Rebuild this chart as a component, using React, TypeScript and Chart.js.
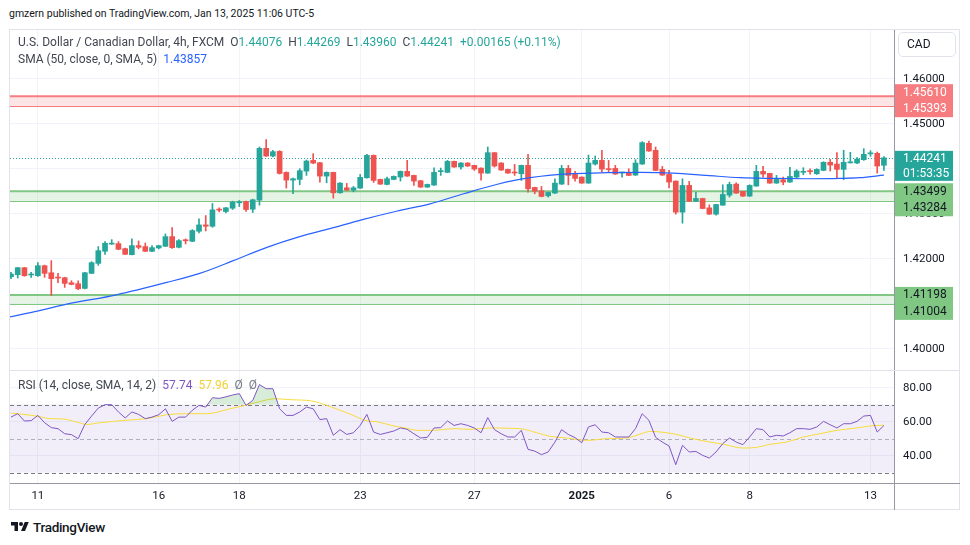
import React, { useEffect, useRef } from 'react';
import { Chart, registerables } from 'chart.js';

Chart.register(...registerables);

// ---- Candles (4h, USDCAD), index 1..131 ----
const opens = [
  1.41600, 1.41646, 1.41802, 1.41640, 1.41624, 1.41846, 1.41690, 1.41587, 1.41579, 1.41468,
  1.41446, 1.41342, 1.41676, 1.41898, 1.42166, 1.42325, 1.42336, 1.42225, 1.42091, 1.42292,
  1.42270, 1.42166, 1.42240, 1.42277, 1.42492, 1.42255, 1.42410, 1.42388, 1.42611, 1.42752,
  1.42722, 1.43090, 1.43049, 1.43123, 1.43242, 1.43272, 1.43101, 1.43302, 1.44452, 1.44281,
  1.44385, 1.43918, 1.43747, 1.43762, 1.43947, 1.44185, 1.44133, 1.43836, 1.43918, 1.43465,
  1.43576, 1.43524, 1.43569, 1.43799, 1.44296, 1.43762, 1.43651, 1.43762, 1.43814, 1.43940,
  1.43851, 1.43733, 1.43591, 1.43636, 1.43935, 1.43918, 1.44163, 1.44037, 1.44126, 1.44074,
  1.44014, 1.43903, 1.44356, 1.44126, 1.43985, 1.43915, 1.43888, 1.44074, 1.43584, 1.43510,
  1.43398, 1.43458, 1.43658, 1.44007, 1.43873, 1.43814, 1.43680, 1.44103, 1.44185, 1.43990,
  1.44007, 1.43905, 1.43918, 1.43858, 1.44103, 1.44564, 1.44408, 1.43985, 1.43873, 1.43725,
  1.43035, 1.43629, 1.43280, 1.43339, 1.43131, 1.42990, 1.43190, 1.43413, 1.43658, 1.43495,
  1.43391, 1.43614, 1.43940, 1.43896, 1.43680, 1.43755, 1.43703, 1.43814, 1.43920, 1.43945,
  1.43888, 1.43962, 1.44141, 1.44103, 1.43985, 1.44130, 1.44126, 1.44200, 1.44330, 1.44341,
  1.44076,
];
const highs = [
  1.41700, 1.41810, 1.41810, 1.41700, 1.41913, 1.41860, 1.41958, 1.41676, 1.41590, 1.41512,
  1.41512, 1.41700, 1.41935, 1.42270, 1.42381, 1.42425, 1.42381, 1.42240, 1.42440, 1.42396,
  1.42351, 1.42292, 1.42300, 1.42552, 1.42693, 1.42425, 1.42440, 1.42648, 1.42886, 1.42960,
  1.43227, 1.43131, 1.43140, 1.43279, 1.43294, 1.43280, 1.43324, 1.44482, 1.44645, 1.44408,
  1.44400, 1.43930, 1.43790, 1.43999, 1.44192, 1.44333, 1.44140, 1.43930, 1.43925, 1.43690,
  1.43673, 1.43606, 1.43873, 1.44319, 1.44305, 1.43770, 1.43814, 1.43840, 1.43950, 1.44185,
  1.43860, 1.43740, 1.43660, 1.44022, 1.44014, 1.44185, 1.44170, 1.44135, 1.44135, 1.44080,
  1.44020, 1.44482, 1.44360, 1.44135, 1.43990, 1.44096, 1.44080, 1.44319, 1.43590, 1.43606,
  1.43480, 1.43777, 1.44074, 1.44074, 1.43940, 1.43820, 1.44304, 1.44282, 1.44408, 1.44185,
  1.44074, 1.43918, 1.43999, 1.44200, 1.44601, 1.44616, 1.44482, 1.44051, 1.43962, 1.43730,
  1.43777, 1.43718, 1.43473, 1.43345, 1.43198, 1.43210, 1.43643, 1.43703, 1.43688, 1.43500,
  1.43643, 1.44074, 1.44051, 1.43900, 1.43851, 1.43814, 1.44029, 1.43977, 1.44022, 1.43999,
  1.43999, 1.44155, 1.44207, 1.44356, 1.44408, 1.44363, 1.44245, 1.44445, 1.44400, 1.44371,
  1.44269,
];
const lows = [
  1.41560, 1.41572, 1.41610, 1.41587, 1.41610, 1.41587, 1.41186, 1.41468, 1.41364, 1.41420,
  1.41312, 1.41330, 1.41670, 1.41854, 1.42099, 1.42320, 1.42200, 1.42090, 1.42085, 1.42218,
  1.42160, 1.42160, 1.42218, 1.42270, 1.42232, 1.42240, 1.42329, 1.42380, 1.42574, 1.42618,
  1.42700, 1.43042, 1.43019, 1.43094, 1.43160, 1.43049, 1.43027, 1.43190, 1.44270, 1.44259,
  1.43880, 1.43569, 1.43443, 1.43643, 1.43851, 1.44110, 1.43702, 1.43687, 1.43346, 1.43458,
  1.43515, 1.43487, 1.43560, 1.43790, 1.43695, 1.43650, 1.43640, 1.43755, 1.43725, 1.43830,
  1.43629, 1.43585, 1.43585, 1.43630, 1.43851, 1.43910, 1.44030, 1.43992, 1.44050, 1.43962,
  1.43747, 1.43895, 1.44037, 1.43962, 1.43895, 1.43851, 1.43740, 1.43480, 1.43443, 1.43375,
  1.43369, 1.43450, 1.43650, 1.43643, 1.43725, 1.43675, 1.43675, 1.44081, 1.43925, 1.43925,
  1.43875, 1.43814, 1.43845, 1.43850, 1.44095, 1.44385, 1.43955, 1.43850, 1.43576, 1.42990,
  1.42790, 1.43270, 1.43270, 1.43110, 1.42985, 1.42968, 1.43185, 1.43369, 1.43450, 1.43385,
  1.43385, 1.43610, 1.43814, 1.43675, 1.43675, 1.43643, 1.43695, 1.43799, 1.43866, 1.43881,
  1.43873, 1.43955, 1.43948, 1.43777, 1.43755, 1.44126, 1.44111, 1.44185, 1.44274, 1.43903,
  1.43960,
];
const closes = [
  1.41660, 1.41802, 1.41624, 1.41650, 1.41846, 1.41676, 1.41557, 1.41572, 1.41453, 1.41431,
  1.41334, 1.41690, 1.41913, 1.42180, 1.42344, 1.42333, 1.42210, 1.42099, 1.42292, 1.42255,
  1.42166, 1.42247, 1.42292, 1.42492, 1.42247, 1.42403, 1.42400, 1.42626, 1.42752, 1.42722,
  1.43086, 1.43080, 1.43131, 1.43257, 1.43264, 1.43094, 1.43309, 1.44452, 1.44281, 1.44378,
  1.43895, 1.43747, 1.43777, 1.43955, 1.44170, 1.44125, 1.43836, 1.43918, 1.43465, 1.43680,
  1.43524, 1.43576, 1.43807, 1.44296, 1.43740, 1.43658, 1.43777, 1.43829, 1.43940, 1.43836,
  1.43725, 1.43591, 1.43651, 1.43918, 1.43945, 1.44163, 1.44037, 1.44126, 1.44059, 1.43992,
  1.43903, 1.44356, 1.44059, 1.43970, 1.43903, 1.43905, 1.44074, 1.43554, 1.43502, 1.43383,
  1.43473, 1.43680, 1.44007, 1.43851, 1.43784, 1.43680, 1.44126, 1.44185, 1.43992, 1.43980,
  1.43881, 1.43912, 1.43851, 1.44126, 1.44579, 1.44393, 1.43962, 1.43858, 1.43703, 1.43035,
  1.43629, 1.43280, 1.43339, 1.43116, 1.42990, 1.43205, 1.43428, 1.43651, 1.43458, 1.43391,
  1.43629, 1.43940, 1.43881, 1.43680, 1.43762, 1.43703, 1.43829, 1.43948, 1.43930, 1.43935,
  1.43985, 1.44141, 1.44081, 1.43985, 1.44141, 1.44136, 1.44215, 1.44319, 1.44336, 1.44059,
  1.44241,
];

// ---- SMA(50) (candle index, value) ----
const smaIdx = [0.85, 5.07, 9.3, 16.7, 24.2, 29.1, 34.1, 39.1, 44.0, 48.5, 53.2, 58.4, 63.4, 68.4, 73.3, 78.3, 84.7, 89.7, 94.7, 99.6, 104.6, 109.6, 114.5, 119.5, 124.5, 127.4, 131];
const smaValues = [1.40710, 1.40844, 1.40993, 1.41200, 1.41474, 1.41675, 1.41958, 1.42254, 1.42492, 1.42670, 1.42864, 1.43056, 1.43220, 1.43443, 1.43650, 1.43800, 1.43889, 1.43911, 1.43918, 1.43902, 1.43851, 1.43800, 1.43784, 1.43777, 1.43784, 1.43800, 1.43857];

// ---- RSI(14) per candle ----
const rsiValues = [
  62.7, 64.7, 60.4, 60.6, 63.7, 59.4, 56.5, 55.9, 52.9, 52.4,
  50.0, 58.4, 63.3, 68.0, 70.0, 70.0, 65.7, 62.2, 65.7, 64.3,
  61.8, 62.7, 64.1, 67.6, 60.2, 62.7, 62.7, 66.7, 69.6, 68.6,
  74.1, 73.7, 74.6, 75.7, 76.5, 69.6, 72.5, 81.8, 79.4, 79.4,
  67.6, 63.7, 63.7, 65.7, 68.6, 67.6, 61.2, 61.8, 52.0, 55.3,
  52.5, 53.5, 57.8, 64.3, 53.9, 52.5, 53.5, 54.5, 56.3, 55.5,
  52.9, 50.4, 50.8, 56.3, 56.5, 60.4, 57.8, 58.8, 57.8, 56.3,
  53.5, 62.4, 55.3, 52.9, 51.0, 51.0, 54.9, 43.7, 42.7, 40.6,
  42.2, 48.0, 55.3, 52.5, 50.6, 47.6, 56.9, 58.2, 53.9, 53.5,
  51.0, 51.0, 51.0, 55.9, 64.7, 60.8, 50.8, 48.0, 45.7, 34.7,
  46.1, 42.2, 42.5, 40.2, 38.6, 42.2, 47.1, 50.4, 48.0, 46.5,
  51.0, 55.9, 55.3, 51.0, 52.0, 51.6, 53.5, 55.9, 55.9, 55.5,
  56.9, 60.2, 58.2, 56.3, 58.8, 58.8, 60.2, 63.3, 63.7, 53.9,
  57.74,
];

// ---- RSI-based MA (candle index, value) ----
const rsiMaIdx = [1, 4.83, 6.81, 8.79, 10.78, 12.27, 14.25, 19.21, 21.21, 24.19, 27.17, 30.14, 33.61, 35.85, 37.83, 40.31, 42.8, 45.78, 47.76, 49.74, 51.74, 53.72, 55.7, 57.69, 59.67, 61.66, 63.65, 67.12, 69.35, 72.33, 76.8, 79.29, 81.27, 83.75, 86.73, 89.71, 92.69, 95.16, 96.16, 98.65, 100.63, 102.12, 105.1, 107.08, 110.06, 112.05, 114.03, 116.52, 118.99, 121.48, 123.96, 126.94, 128.92, 131];
const rsiMaValues = [65.1, 63.3, 61.8, 61.6, 59.8, 58.4, 59.4, 61.2, 61.8, 64.1, 64.7, 64.7, 67.6, 69.6, 71.6, 73.5, 72.9, 72.2, 70.0, 67.1, 64.1, 60.8, 59.8, 57.8, 56.3, 54.9, 54.9, 55.9, 55.5, 56.3, 55.9, 53.5, 51.4, 50.4, 49.0, 50.0, 50.4, 53.3, 54.3, 53.5, 52.0, 50.4, 48.0, 46.7, 44.5, 44.9, 46.7, 48.0, 51.0, 52.9, 54.9, 56.3, 57.5, 57.96];

// ---- Axes / annotations ----
const timeTickIdx = [5, 23, 35, 53, 70, 86, 99, 111, 129];
const timeTickLabels = ['11', '16', '18', '23', '27', '2025', '6', '8', '13'];
const priceTicks = [1.40, 1.41, 1.42, 1.43, 1.44, 1.45, 1.46];
const rsiTicks = [40, 60, 80];
const rsiLevels = [70, 50, 30];
const zoneHighs = [1.45610, 1.43499, 1.41198];
const zoneLows = [1.45393, 1.43284, 1.41004];
const zoneKinds = ['red', 'green', 'green'];
const lastPrice = 1.44241;
const countdownText = '01:53:35';

const IDX_MIN = 0.85;
const IDX_MAX = 132.5;
const PRICE_MIN = 1.3953;
const PRICE_MAX = 1.4708;
const RSI_MIN = 23.94;
const RSI_MAX = 90.4;

const UP = '#26A69A';
const DOWN = '#EF5350';
const GRID = '#F0F3FA';
const TEXT = '#131722';
const FONT = "Roboto, 'Noto Sans', sans-serif";

export default function App() {
  const priceRef = useRef<HTMLCanvasElement | null>(null);
  const rsiRef = useRef<HTMLCanvasElement | null>(null);

  useEffect(() => {
    const colors = opens.map((o, i) => (closes[i] >= o ? UP : DOWN));

    const zonePlugin = {
      id: 'zones',
      beforeDatasetsDraw(chart: any) {
        const { ctx, chartArea, scales } = chart;
        const y = scales.y;
        ctx.save();
        zoneHighs.forEach((hi, i) => {
          const yt = y.getPixelForValue(hi);
          const yb = y.getPixelForValue(zoneLows[i]);
          const red = zoneKinds[i] === 'red';
          ctx.fillStyle = red ? 'rgba(247,124,128,0.2)' : 'rgba(129,199,132,0.2)';
          ctx.fillRect(chartArea.left, yt, chartArea.right - chartArea.left, yb - yt);
          ctx.strokeStyle = red ? '#F77C80' : '#81C784';
          ctx.lineWidth = 2;
          ctx.beginPath();
          ctx.moveTo(chartArea.left, yt);
          ctx.lineTo(chartArea.right, yt);
          ctx.stroke();
          ctx.lineWidth = 1;
          ctx.beginPath();
          ctx.moveTo(chartArea.left, Math.round(yb) + 0.5);
          ctx.lineTo(chartArea.right, Math.round(yb) + 0.5);
          ctx.stroke();
        });
        const yp = Math.round(y.getPixelForValue(lastPrice)) + 0.5;
        ctx.strokeStyle = UP;
        ctx.lineWidth = 1;
        ctx.setLineDash([1, 2]);
        ctx.beginPath();
        ctx.moveTo(chartArea.left, yp);
        ctx.lineTo(chartArea.right, yp);
        ctx.stroke();
        ctx.restore();
      },
      afterDraw(chart: any) {
        const { ctx, chartArea, scales } = chart;
        const y = scales.y;
        ctx.save();
        ctx.strokeStyle = '#9598A1';
        ctx.lineWidth = 1;
        ctx.beginPath();
        ctx.moveTo(chartArea.right + 0.5, chartArea.top);
        ctx.lineTo(chartArea.right + 0.5, chartArea.bottom);
        ctx.stroke();
        ctx.font = `12px ${FONT}`;
        ctx.textBaseline = 'middle';
        ctx.textAlign = 'left';
        const bx = chartArea.right + 1;
        const bw = 58;
        zoneHighs.forEach((hi, i) => {
          const red = zoneKinds[i] === 'red';
          const top = y.getPixelForValue(hi) - (red ? 12 : 8);
          ctx.fillStyle = red ? '#F77C80' : '#81C784';
          ctx.fillRect(bx, top, bw, 33);
          ctx.fillStyle = red ? '#FFFFFF' : TEXT;
          ctx.fillText(hi.toFixed(5), bx + 8, top + 8.5);
          ctx.fillText(zoneLows[i].toFixed(5), bx + 8, top + 25);
        });
        const yp = y.getPixelForValue(lastPrice);
        ctx.fillStyle = UP;
        ctx.fillRect(bx, yp - 7, bw, 30);
        ctx.fillStyle = '#FFFFFF';
        ctx.fillText(lastPrice.toFixed(5), bx + 8, yp + 1);
        ctx.fillText(countdownText, bx + 8, yp + 16);
        ctx.restore();
      },
    };

    const priceChart = new Chart(priceRef.current as HTMLCanvasElement, {
      type: 'bar',
      data: {
        datasets: [
          {
            type: 'line',
            label: 'SMA',
            data: smaIdx.map((x, i) => ({ x, y: smaValues[i] })),
            borderColor: '#2962FF',
            borderWidth: 1.2,
            pointRadius: 0,
            cubicInterpolationMode: 'monotone',
            order: -1,
          } as any,
          {
            label: 'body',
            data: opens.map((o, i) => ({ x: i + 1, y: [o, closes[i]] })),
            backgroundColor: colors,
            barThickness: 5,
            minBarLength: 1,
            grouped: false,
            order: 0,
          } as any,
          {
            label: 'wick',
            data: opens.map((o, i) => ({ x: i + 1, y: [lows[i], highs[i]] })),
            backgroundColor: colors,
            barThickness: 1,
            grouped: false,
            order: 1,
          } as any,
        ],
      },
      options: {
        responsive: false,
        animation: false,
        events: [],
        layout: { padding: 0 },
        plugins: { legend: { display: false }, tooltip: { enabled: false } },
        scales: {
          x: {
            type: 'linear',
            min: IDX_MIN,
            max: IDX_MAX,
            offset: false,
            grid: { color: GRID, offset: false, drawTicks: false },
            border: { display: false },
            ticks: { display: false },
            afterBuildTicks: (s: any) => {
              s.ticks = timeTickIdx.map((v) => ({ value: v }));
            },
            afterFit: (s: any) => {
              s.height = 0;
              s.paddingLeft = 0;
              s.paddingRight = 0;
            },
          },
          y: {
            type: 'linear',
            position: 'right',
            min: PRICE_MIN,
            max: PRICE_MAX,
            grid: { color: GRID, drawTicks: false },
            border: { display: false },
            ticks: {
              padding: 9,
              color: TEXT,
              autoSkip: false,
              font: { family: FONT, size: 11.5 },
              callback: (v: any) => Number(v).toFixed(5),
            },
            afterBuildTicks: (s: any) => {
              s.ticks = priceTicks.map((v) => ({ value: v }));
            },
            afterFit: (s: any) => {
              s.width = 66;
              s.paddingTop = 0;
              s.paddingBottom = 0;
            },
          },
        },
      } as any,
      plugins: [zonePlugin],
    });

    const rsiPlugin = {
      id: 'rsiBand',
      beforeDatasetsDraw(chart: any) {
        const { ctx, chartArea, scales } = chart;
        const y = scales.y;
        ctx.save();
        const y70 = y.getPixelForValue(rsiLevels[0]);
        const y30 = y.getPixelForValue(rsiLevels[2]);
        ctx.fillStyle = 'rgba(126,87,194,0.1)';
        ctx.fillRect(chartArea.left, y70, chartArea.right - chartArea.left, y30 - y70);
        ctx.lineWidth = 1;
        rsiLevels.forEach((lv, i) => {
          const yy = Math.round(y.getPixelForValue(lv)) + 0.5;
          ctx.strokeStyle = i === 1 ? 'rgba(120,123,134,0.55)' : '#787B86';
          ctx.setLineDash([4, 3]);
          ctx.beginPath();
          ctx.moveTo(chartArea.left, yy);
          ctx.lineTo(chartArea.right, yy);
          ctx.stroke();
        });
        ctx.restore();
      },
      afterDraw(chart: any) {
        const { ctx, chartArea, width, height } = chart;
        ctx.save();
        ctx.strokeStyle = '#9598A1';
        ctx.lineWidth = 1;
        ctx.beginPath();
        ctx.moveTo(chartArea.right + 0.5, 0);
        ctx.lineTo(chartArea.right + 0.5, height);
        ctx.moveTo(0, chartArea.bottom + 0.5);
        ctx.lineTo(width, chartArea.bottom + 0.5);
        ctx.stroke();
        ctx.strokeStyle = '#E0E3EB';
        ctx.beginPath();
        ctx.moveTo(0, 0.5);
        ctx.lineTo(width, 0.5);
        ctx.stroke();
        ctx.restore();
      },
    };

    const rsiChart = new Chart(rsiRef.current as HTMLCanvasElement, {
      type: 'line',
      data: {
        datasets: [
          {
            label: 'RSI',
            data: rsiValues.map((v, i) => ({ x: i + 1, y: v })),
            borderColor: '#7E57C2',
            borderWidth: 1,
            pointRadius: 0,
            fill: { target: { value: 70 }, above: 'rgba(76,175,80,0.22)', below: 'rgba(0,0,0,0)' },
            order: 0,
          } as any,
          {
            label: 'RSI MA',
            data: rsiMaIdx.map((x, i) => ({ x, y: rsiMaValues[i] })),
            borderColor: '#F7DC3A',
            borderWidth: 1,
            pointRadius: 0,
            cubicInterpolationMode: 'monotone',
            fill: false,
            order: 1,
          } as any,
        ],
      },
      options: {
        responsive: false,
        animation: false,
        events: [],
        layout: { padding: 0 },
        plugins: { legend: { display: false }, tooltip: { enabled: false } },
        scales: {
          x: {
            type: 'linear',
            min: IDX_MIN,
            max: IDX_MAX,
            offset: false,
            grid: { color: GRID, drawTicks: false },
            border: { display: false },
            ticks: {
              autoSkip: false,
              maxRotation: 0,
              padding: 6,
              color: TEXT,
              font: (c: any) => ({
                family: FONT,
                size: 11.5,
                weight: timeTickLabels[c.index] === '2025' ? 'bold' : 'normal',
              }),
              callback: (v: any) => {
                const k = timeTickIdx.indexOf(Number(v));
                return k >= 0 ? timeTickLabels[k] : '';
              },
            },
            afterBuildTicks: (s: any) => {
              s.ticks = timeTickIdx.map((v) => ({ value: v }));
            },
            afterFit: (s: any) => {
              s.height = 27;
              s.paddingLeft = 0;
              s.paddingRight = 0;
            },
          },
          y: {
            type: 'linear',
            position: 'right',
            min: RSI_MIN,
            max: RSI_MAX,
            grid: { color: GRID, drawTicks: false },
            border: { display: false },
            ticks: {
              padding: 9,
              color: TEXT,
              autoSkip: false,
              font: { family: FONT, size: 11.5 },
              callback: (v: any) => Number(v).toFixed(2),
            },
            afterBuildTicks: (s: any) => {
              s.ticks = rsiTicks.map((v) => ({ value: v }));
            },
            afterFit: (s: any) => {
              s.width = 66;
              s.paddingTop = 0;
              s.paddingBottom = 0;
            },
          },
        },
      } as any,
      plugins: [rsiPlugin],
    });

    return () => {
      priceChart.destroy();
      rsiChart.destroy();
    };
  }, []);

  const abs = (l: number, t: number): React.CSSProperties => ({ position: 'absolute', left: l, top: t });
  const legendFont: React.CSSProperties = { fontFamily: FONT, fontSize: 12, whiteSpace: 'nowrap', lineHeight: '16px' };

  return (
    <div style={{ position: 'absolute', left: 0, top: 0, width: 970, height: 545, background: '#FFFFFF', overflow: 'hidden' }}>
      <div style={{ ...abs(9, 6), ...legendFont, fontSize: 10.5, color: TEXT }}>
        gmzern published on TradingView.com, Jan 13, 2025 11:06 UTC-5
      </div>
      <div style={{ position: 'absolute', left: 9, top: 29, width: 951, height: 481, border: '1px solid #E0E3EB', boxSizing: 'border-box' }} />
      <canvas ref={priceRef} width={950} height={340} style={{ ...abs(10, 30), display: 'block' }} />
      <canvas ref={rsiRef} width={950} height={140} style={{ ...abs(10, 370), display: 'block' }} />

      <div style={{ ...abs(18, 34), ...legendFont, color: '#434651' }}>
        <span>U.S. Dollar / Canadian Dollar, 4h, FXCM</span>
        <span style={{ marginLeft: 6 }}>O</span><span style={{ color: UP }}>1.44076</span>
        <span style={{ marginLeft: 6 }}>H</span><span style={{ color: UP }}>1.44269</span>
        <span style={{ marginLeft: 6 }}>L</span><span style={{ color: UP }}>1.43960</span>
        <span style={{ marginLeft: 6 }}>C</span><span style={{ color: UP }}>1.44241</span>
        <span style={{ marginLeft: 6, color: UP }}>+0.00165 (+0.11%)</span>
      </div>
      <div style={{ ...abs(18, 51), ...legendFont, color: '#434651' }}>
        <span>SMA (50, close, 0, SMA, 5)</span>
        <span style={{ marginLeft: 6, color: '#2962FF' }}>1.43857</span>
      </div>
      <div style={{ ...abs(18, 377), ...legendFont, color: '#434651' }}>
        <span>RSI (14, close, SMA, 14, 2)</span>
        <span style={{ marginLeft: 6, color: '#7E57C2' }}>57.74</span>
        <span style={{ marginLeft: 6, color: '#F2D230' }}>57.96</span>
        <span style={{ marginLeft: 6, color: '#787B86' }}>Ø</span>
        <span style={{ marginLeft: 6, color: '#787B86' }}>Ø</span>
      </div>

      <div style={{ position: 'absolute', left: 898, top: 32, width: 58, height: 25, border: '1px solid #E0E3EB', borderRadius: 5, boxSizing: 'border-box', ...legendFont, lineHeight: '23px', paddingLeft: 8, color: TEXT }}>
        CAD
      </div>

      <div style={{ ...abs(10, 519), display: 'flex', alignItems: 'center', gap: 3, fontFamily: FONT, fontSize: 13.5, fontWeight: 500, color: '#131722', letterSpacing: -0.3 }}>
        <svg width="20" height="14" viewBox="0 0 36 28">
          <path d="M14 22H7V11H0V4h14v18z" fill="#131722" />
          <circle cx="20" cy="8" r="4" fill="#131722" />
          <path d="M28 22h-8l7.5-18h8L28 22z" fill="#131722" />
        </svg>
        <span>TradingView</span>
      </div>
    </div>
  );
}
